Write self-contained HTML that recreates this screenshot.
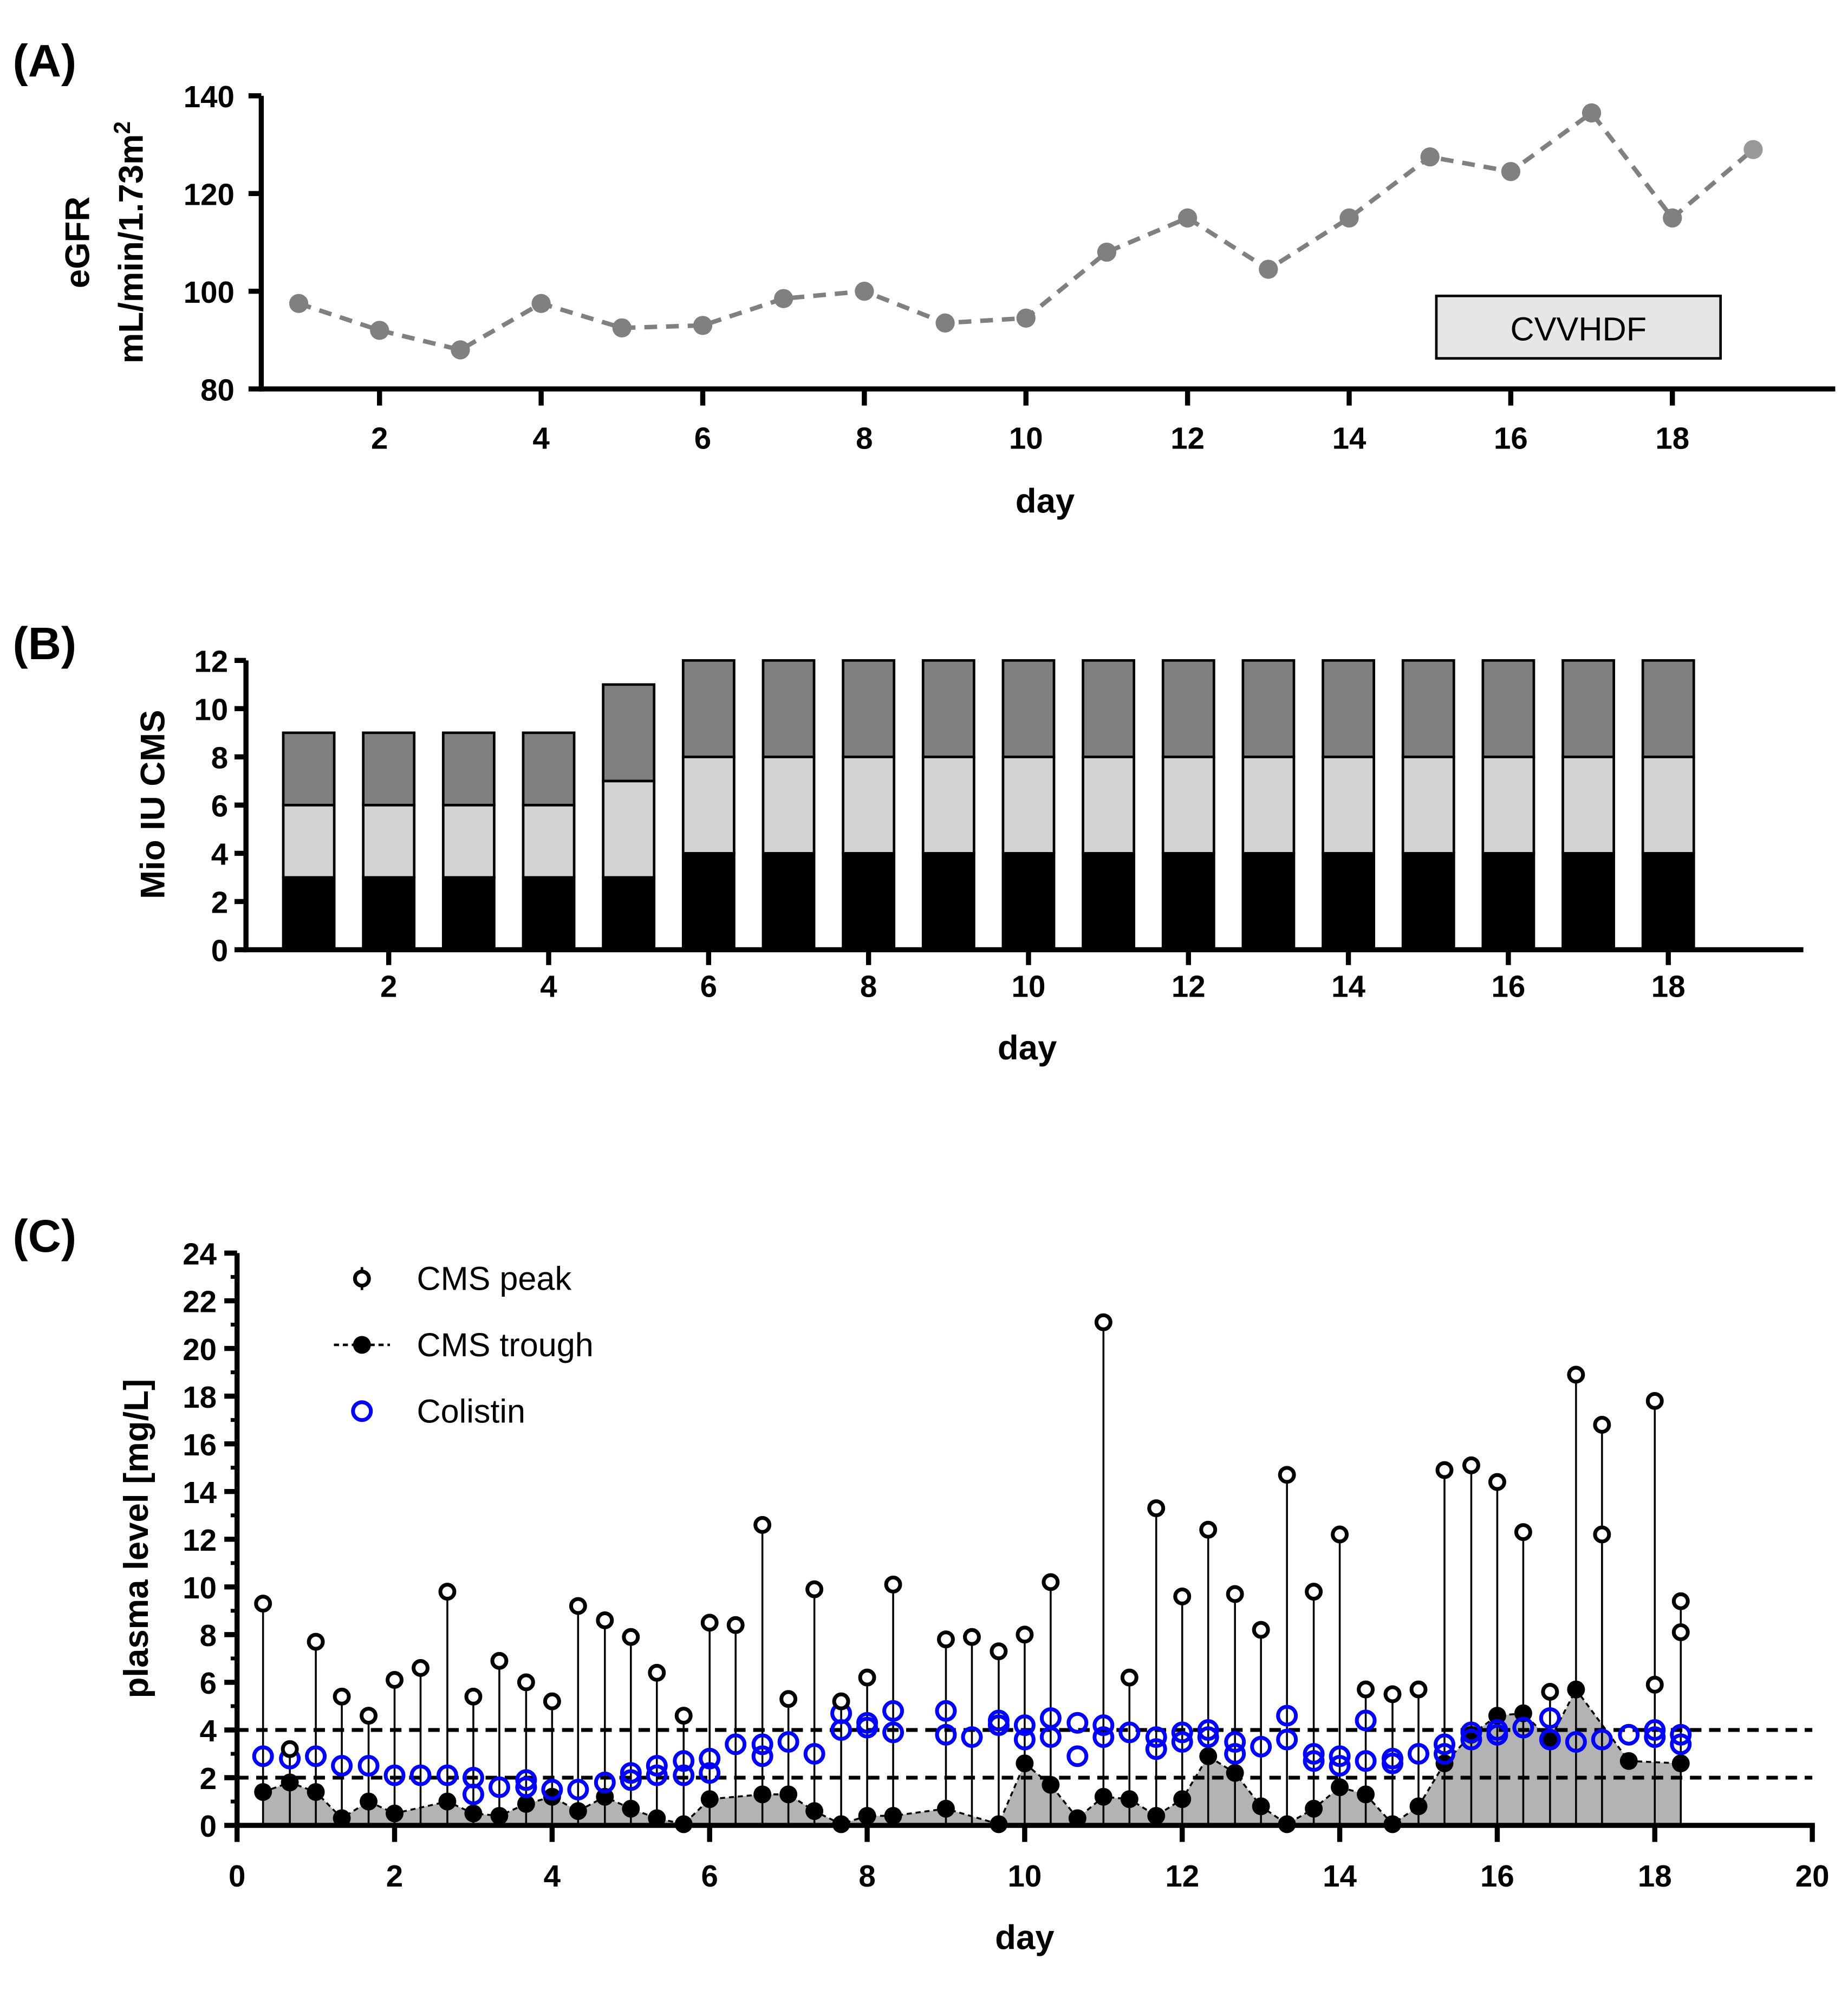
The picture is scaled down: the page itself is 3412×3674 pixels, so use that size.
<!DOCTYPE html>
<html><head><meta charset="utf-8"><style>
html,body{margin:0;padding:0;background:#fff}
svg{display:block}
text{font-family:"Liberation Sans",Arial,sans-serif}
</style></head><body>
<svg id="fig" width="3412" height="3674" viewBox="0 0 1450 1561" xmlns="http://www.w3.org/2000/svg">
<g id="pa"></g>
<g id="pb"></g>
<g id="pc"></g>
</svg>
<script>
// Panel A data
const aDays=[1,2,3,4,5,6,7,8,9,10,11,12,13,14,15,16,17,18,19];
const aEgfr=[97.5,92,88,97.5,92.5,93,98.5,100,93.5,94.5,108,115,104.5,115,127.5,124.5,136.5,115,129];
const aYTicks=[80,100,120,140];
const aXTicks=[2,4,6,8,10,12,14,16,18];
// Panel B data
const bDays=[1,2,3,4,5,6,7,8,9,10,11,12,13,14,15,16,17,18];
const bDose1=[3,3,3,3,3,4,4,4,4,4,4,4,4,4,4,4,4,4];
const bDose2=[3,3,3,3,4,4,4,4,4,4,4,4,4,4,4,4,4,4];
const bDose3=[3,3,3,3,4,4,4,4,4,4,4,4,4,4,4,4,4,4];
const bYTicks=[0,2,4,6,8,10,12];
const bXTicks=[2,4,6,8,10,12,14,16,18];
// Panel C data
const cPeakT=[0.33,0.67,1,1.33,1.67,2,2.33,2.67,3,3.33,3.67,4,4.33,4.67,5,5.33,5.67,6,6.33,6.67,7,7.33,7.67,8,8.33,9,9.33,9.67,10,10.33,11,11.33,11.67,12,12.33,12.67,13,13.33,13.67,14,14.33,14.67,15,15.33,15.67,16,16.33,16.67,17,17.33,17.33,18,18,18.33,18.33];
const cPeakV=[9.3,3.2,7.7,5.4,4.6,6.1,6.6,9.8,5.4,6.9,6.0,5.2,9.2,8.6,7.9,6.4,4.6,8.5,8.4,12.6,5.3,9.9,5.2,6.2,10.1,7.8,7.9,7.3,8.0,10.2,21.1,6.2,13.3,9.6,12.4,9.7,8.2,14.7,9.8,12.2,5.7,5.5,5.7,14.9,15.1,14.4,12.3,5.6,18.9,16.8,12.2,17.8,5.9,9.4,8.1];
const cTroughT=[0.33,0.67,1,1.33,1.67,2,2.67,3,3.33,3.67,4,4.33,4.67,5,5.33,5.67,6,6.67,7,7.33,7.67,8,8.33,9,9.67,10,10.33,10.67,11,11.33,11.67,12,12.33,12.67,13,13.33,13.67,14,14.33,14.67,15,15.33,15.67,16,16.33,16.67,17,17.67,18.33];
const cTroughV=[1.4,1.8,1.4,0.3,1.0,0.5,1.0,0.5,0.4,0.9,1.2,0.6,1.2,0.7,0.3,0.05,1.1,1.3,1.3,0.6,0.05,0.4,0.4,0.7,0.05,2.6,1.7,0.3,1.2,1.1,0.4,1.1,2.9,2.2,0.8,0.05,0.7,1.6,1.3,0.05,0.8,2.6,3.8,4.6,4.7,3.6,5.7,2.7,2.6];
const cColT=[0.33,0.67,1,1.33,1.67,2,2.33,2.67,3,3,3.33,3.67,3.67,4,4.33,4.67,5,5,5.33,5.33,5.67,5.67,6,6,6.33,6.67,6.67,7,7.33,7.67,7.67,8,8,8.33,8.33,9,9,9.33,9.67,9.67,10,10,10.33,10.33,10.67,10.67,11,11,11.33,11.67,11.67,12,12,12.33,12.33,12.67,12.67,13,13.33,13.33,13.67,13.67,14,14,14.33,14.33,14.67,14.67,15,15.33,15.33,15.67,15.67,16,16,16.33,16.67,16.67,17,17.33,17.67,18,18,18.33,18.33];
const cColV=[2.9,2.8,2.9,2.5,2.5,2.1,2.1,2.1,2.0,1.3,1.6,1.9,1.6,1.5,1.5,1.8,2.2,1.9,2.5,2.1,2.7,2.1,2.8,2.2,3.4,3.4,2.9,3.5,3.0,4.7,4.0,4.3,4.1,4.8,3.9,4.8,3.8,3.7,4.4,4.2,4.2,3.6,4.5,3.7,4.3,2.9,4.2,3.7,3.9,3.7,3.2,3.9,3.5,4.0,3.7,3.5,3.0,3.3,4.6,3.6,3.0,2.7,2.9,2.5,4.4,2.7,2.8,2.6,3.0,3.4,3.0,3.9,3.6,4.0,3.8,4.1,4.5,3.6,3.5,3.6,3.8,4.0,3.7,3.8,3.4];
const cYTicks=[0,2,4,6,8,10,12,14,16,18,20,22,24];
const cXTicks=[0,2,4,6,8,10,12,14,16,18,20];
const cRefLines=[2,4];

const NS="http://www.w3.org/2000/svg";
function mk(parent,tag,attrs,txt){const e=document.createElementNS(NS,tag);for(const k in attrs)e.setAttribute(k,attrs[k]);if(txt!==undefined)e.textContent=txt;parent.appendChild(e);return e;}

// ---------- Panel A ----------
(function(){
const g=document.getElementById('pa');
const ax=d=>171+63.4*d, ay=v=>305-(v-80)*230/60;
let t=mk(g,'text',{x:10,y:60,'font-size':36,'font-weight':'bold'},'(A)');

// box
let r=mk(g,'rect',{x:1127,y:232,width:223,height:49,fill:'#e6e6e6',stroke:'#000','stroke-width':2});

t=mk(g,'text',{x:1238.5,y:267,'font-size':26,'text-anchor':'middle'},'CVVHDF');

// line
let pts=aDays.map((d,i)=>ax(d)+','+ay(aEgfr[i])).join(' ');
let pl=mk(g,'polyline',{points:pts,fill:'none',stroke:'#808080','stroke-width':3.5,'stroke-dasharray':'10,7'});

aDays.forEach((d,i)=>{const c=mk(g,'circle',{cx:ax(d),cy:ay(aEgfr[i]),r:7.5,fill:i==aDays.length-1?'#999':'#808080'});
});
// axes
let yl=mk(g,'line',{x1:205,y1:ay(140),x2:205,y2:307,stroke:'#000','stroke-width':4});

let xl=mk(g,'line',{x1:203,y1:305,x2:1440,y2:305,stroke:'#000','stroke-width':4});

aYTicks.forEach(v=>{mk(g,'line',{x1:195,y1:ay(v),x2:205,y2:ay(v),stroke:'#000','stroke-width':4});
const tt=mk(g,'text',{x:184,y:ay(v)+9,'font-size':24,'font-weight':'bold','text-anchor':'end'},v);
});
aXTicks.forEach(v=>{mk(g,'line',{x1:ax(v),y1:305,x2:ax(v),y2:318,stroke:'#000','stroke-width':4});
const tt=mk(g,'text',{x:ax(v),y:352,'font-size':24,'font-weight':'bold','text-anchor':'middle'},v);
});
t=mk(g,'text',{x:820,y:402,'font-size':27,'font-weight':'bold','text-anchor':'middle'},'day');

t=mk(g,'text',{transform:'translate(70,190) rotate(-90)','font-size':27,'font-weight':'bold','text-anchor':'middle'},'eGFR');

t=mk(g,'text',{transform:'translate(112,190) rotate(-90)','font-size':27,'font-weight':'bold','text-anchor':'middle'});
t.innerHTML='mL/min/1.73m<tspan dy="-10" font-size="18">2</tspan>';

})();

// ---------- Panel B ----------
(function(){
const g=document.getElementById('pb');
const bx=d=>179.5+62.75*d, by=v=>745-v*227/12, bw=40;
let t=mk(g,'text',{x:10,y:517,'font-size':36,'font-weight':'bold'},'(B)');

bDays.forEach((d,i)=>{
 const a=bDose1[i],b=bDose2[i],c=bDose3[i];
 const segs=[[0,a,'#000','dose-1-bar'],[a,a+b,'#d3d3d3','dose-2-bar'],[a+b,a+b+c,'#808080','dose-3-bar']];
 segs.forEach(s=>{const r=mk(g,'rect',{x:bx(d)-bw/2,y:by(s[1]),width:bw,height:by(s[0])-by(s[1]),fill:s[2],stroke:'#000','stroke-width':2});
 });
});
let yl=mk(g,'line',{x1:193,y1:by(12),x2:193,y2:747,stroke:'#000','stroke-width':4});

let xl=mk(g,'line',{x1:191,y1:745,x2:1415,y2:745,stroke:'#000','stroke-width':4});

bYTicks.forEach(v=>{mk(g,'line',{x1:184,y1:by(v),x2:193,y2:by(v),stroke:'#000','stroke-width':4});
const tt=mk(g,'text',{x:179,y:by(v)+9,'font-size':24,'font-weight':'bold','text-anchor':'end'},v);
});
bXTicks.forEach(v=>{mk(g,'line',{x1:bx(v),y1:745,x2:bx(v),y2:757,stroke:'#000','stroke-width':4});
const tt=mk(g,'text',{x:bx(v),y:782,'font-size':24,'font-weight':'bold','text-anchor':'middle'},v);
});
t=mk(g,'text',{x:806,y:831,'font-size':27,'font-weight':'bold','text-anchor':'middle'},'day');

t=mk(g,'text',{transform:'translate(129,631) rotate(-90)','font-size':27,'font-weight':'bold','text-anchor':'middle'},'Mio IU CMS');

})();

// ---------- Panel C ----------
(function(){
const g=document.getElementById('pc');
const cx=d=>186+61.8*d, cy=v=>1432-v*449/24;
let t=mk(g,'text',{x:10,y:982,'font-size':36,'font-weight':'bold'},'(C)');

// shaded trough area
let pts=cTroughT.map((d,i)=>cx(d)+','+cy(cTroughV[i]));
let area=mk(g,'polygon',{points:cx(cTroughT[0])+','+cy(0)+' '+pts.join(' ')+' '+cx(cTroughT[cTroughT.length-1])+','+cy(0),fill:'#b3b3b3'});

let tl=mk(g,'polyline',{points:pts.join(' '),fill:'none',stroke:'#000','stroke-width':1.5,'stroke-dasharray':'4,3'});

// ref lines
cRefLines.forEach(v=>{const l=mk(g,'line',{x1:186,y1:cy(v),x2:1422,y2:cy(v),stroke:'#000','stroke-width':3,'stroke-dasharray':'9,6'});
});
// peak stems
cPeakT.forEach((d,i)=>{const l=mk(g,'line',{x1:cx(d),y1:cy(cPeakV[i]),x2:cx(d),y2:cy(0),stroke:'#000','stroke-width':1.5});
});
cTroughT.forEach((d,i)=>{const c=mk(g,'circle',{cx:cx(d),cy:cy(cTroughV[i]),r:7,fill:'#000'});
});
cColT.forEach((d,i)=>{const c=mk(g,'circle',{cx:cx(d),cy:cy(cColV[i]),r:7,fill:'none',stroke:'#0000ff','stroke-width':3});
});
cPeakT.forEach((d,i)=>{const c=mk(g,'circle',{cx:cx(d),cy:cy(cPeakV[i]),r:5.5,fill:'#fff',stroke:'#000','stroke-width':3});
});
// axes
let yl=mk(g,'line',{x1:186,y1:cy(24),x2:186,y2:1434,stroke:'#000','stroke-width':4});

let xl=mk(g,'line',{x1:184,y1:1432,x2:1424,y2:1432,stroke:'#000','stroke-width':4});

cYTicks.forEach(v=>{mk(g,'line',{x1:176,y1:cy(v),x2:186,y2:cy(v),stroke:'#000','stroke-width':4});
if(v<24)mk(g,'line',{x1:181,y1:cy(v+1),x2:186,y2:cy(v+1),stroke:'#000','stroke-width':3});
const tt=mk(g,'text',{x:170,y:cy(v)+9,'font-size':24,'font-weight':'bold','text-anchor':'end'},v);
});
cXTicks.forEach(v=>{mk(g,'line',{x1:cx(v),y1:1432,x2:cx(v),y2:1445,stroke:'#000','stroke-width':4});
const tt=mk(g,'text',{x:cx(v),y:1480,'font-size':24,'font-weight':'bold','text-anchor':'middle'},v);
});
t=mk(g,'text',{x:804,y:1529,'font-size':27,'font-weight':'bold','text-anchor':'middle'},'day');

t=mk(g,'text',{transform:'translate(116,1207) rotate(-90)','font-size':27,'font-weight':'bold','text-anchor':'middle'},'plasma level [mg/L]');

// legend
let lg=mk(g,'g',{});
mk(lg,'line',{x1:284,y1:994,x2:284,y2:1012,stroke:'#000','stroke-width':2});
mk(lg,'circle',{cx:284,cy:1003,r:5.5,fill:'#fff',stroke:'#000','stroke-width':3});
t=mk(lg,'text',{x:327,y:1012,'font-size':26},'CMS peak');
mk(lg,'line',{x1:262,y1:1055,x2:306,y2:1055,stroke:'#000','stroke-width':2,'stroke-dasharray':'4,3'});
mk(lg,'circle',{cx:284,cy:1055,r:7,fill:'#000'});
t=mk(lg,'text',{x:327,y:1064,'font-size':26},'CMS trough');
mk(lg,'circle',{cx:284,cy:1107,r:7,fill:'none',stroke:'#0000ff','stroke-width':3});
t=mk(lg,'text',{x:327,y:1116,'font-size':26},'Colistin');
})();
</script>
</body></html>
